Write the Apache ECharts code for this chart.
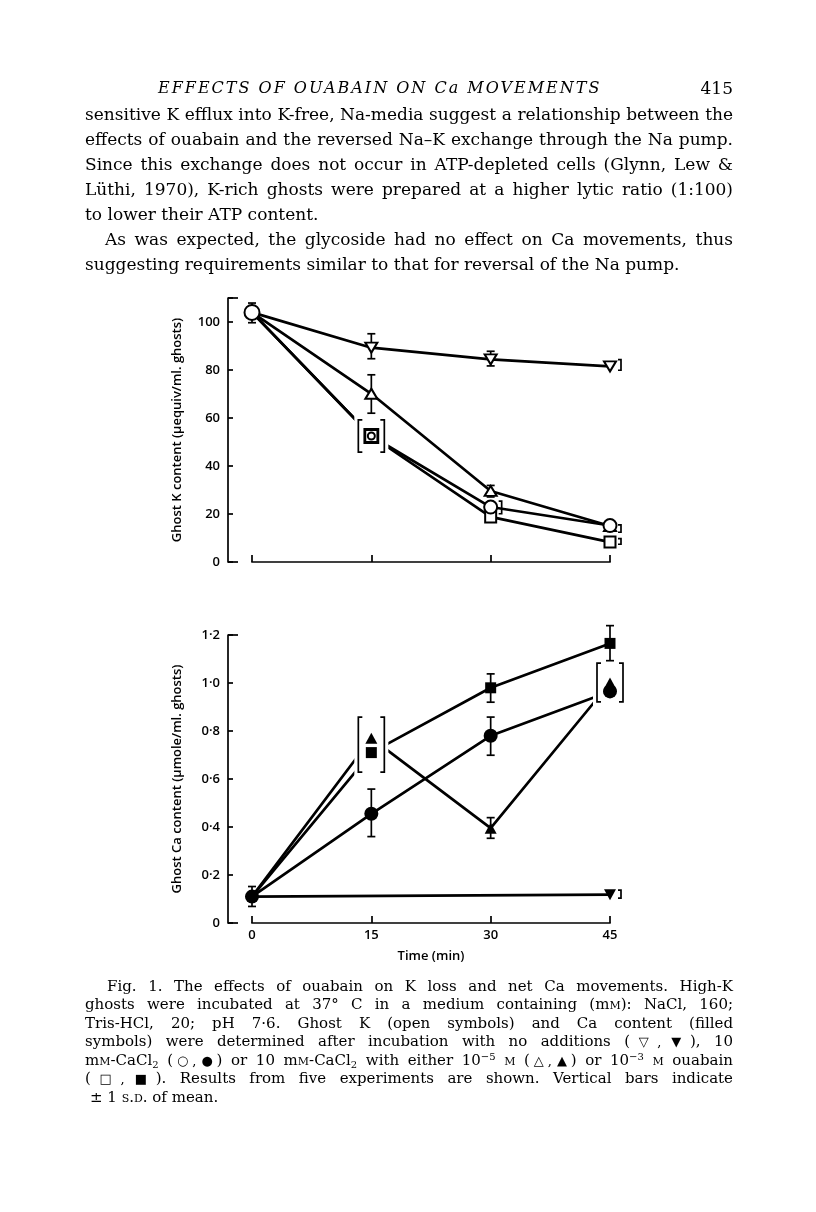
<!DOCTYPE html>
<html><head><meta charset="utf-8">
<script src="https://cdn.jsdelivr.net/npm/echarts@6/dist/echarts.min.js"></script>
<style>
html,body{margin:0;padding:0;background:#fff;}
#page{position:relative;width:816px;height:1212px;overflow:hidden;background:#fff;}
#chart{position:absolute;left:0;top:0;width:816px;height:1212px;}
.t{position:absolute;white-space:nowrap;font-family:'DejaVu Serif',serif;color:#000;z-index:2;}
.b{left:85px;width:648px;font-size:17px;line-height:25px;}
.c{left:85px;width:648px;font-size:15px;line-height:18.5px;}
.j{text-align:justify;text-align-last:justify;text-justify:inter-word;}
.sc{font-variant:small-caps;}
.lo{position:relative;top:3px;font-size:10px;line-height:0;}
.hi{position:relative;top:-5px;font-size:10px;line-height:0;}
.sym{font-size:13px;}
</style></head><body>
<div id="page">
<div id="chart"></div>
<div class="t" style="left:158px;top:77px;line-height:22px;font-size:16px;font-style:italic;letter-spacing:2px;">EFFECTS OF OUABAIN ON Ca MOVEMENTS</div>
<div class="t" style="right:83px;top:77px;line-height:22px;font-size:17px;">415</div>

<div class="t b j" style="top:101.5px">sensitive K efflux into K-free, Na-media suggest a relationship between the</div>
<div class="t b j" style="top:126.5px">effects of ouabain and the reversed Na–K exchange through the Na pump.</div>
<div class="t b j" style="top:151.5px">Since this exchange does not occur in ATP-depleted cells (Glynn, Lew &amp;</div>
<div class="t b j" style="top:176.5px">Lüthi, 1970), K-rich ghosts were prepared at a higher lytic ratio (1:100)</div>
<div class="t b" style="top:201.5px">to lower their ATP content.</div>
<div class="t b j" style="top:226.5px;left:105px;width:628px">As was expected, the glycoside had no effect on Ca movements, thus</div>
<div class="t b" style="top:251.5px">suggesting requirements similar to that for reversal of the Na pump.</div>

<div class="t c j" style="top:976.75px;left:107px;width:626px">Fig. 1. The effects of ouabain on K loss and net Ca movements. High-K</div>
<div class="t c j" style="top:995.25px">ghosts were incubated at 37° C in a medium containing (m<span class="sc">m</span>): NaCl, 160;</div>
<div class="t c j" style="top:1013.75px">Tris-HCl, 20; pH 7·6. Ghost K (open symbols) and Ca content (filled</div>
<div class="t c j" style="top:1032.25px">symbols) were determined after incubation with no additions (<span class="sym">▽,&#8202;▼</span>), 10</div>
<div class="t c j" style="top:1050.75px">m<span class="sc">m</span>-CaCl<span class="lo">2</span> (<span class="sym">○,&#8202;●</span>) or 10 m<span class="sc">m</span>-CaCl<span class="lo">2</span> with either 10<span class="hi">−5</span> <span class="sc">m</span> (<span class="sym">△,&#8202;▲</span>) or 10<span class="hi">−3</span> <span class="sc">m</span> ouabain</div>
<div class="t c j" style="top:1069.25px">(<span class="sym">□,&#8202;■</span>). Results from five experiments are shown. Vertical bars indicate</div>
<div class="t c" style="top:1087.75px;left:90px">± 1 <span class="sc">s.d.</span> of mean.</div>
</div>
<script>
// ---------- data ----------
const timePoints = [0, 15, 30, 45];
const timeTickLabels = ['0', '15', '30', '45'];

// Ghost K content (μequiv/ml. ghosts)
const kNoAdditions = [104, 89.3, 84.4, 81.5];
const kCaCl2 = [104, 52.5, 22.9, 15.2];
const kOuabain5 = [104, 70.1, 29.6, 15.0];
const kOuabain3 = [104, 52.5, 18.8, 8.3];
const kErrorBars = [[0, 99.7, 107.9], [15, 84.7, 95.1], [30, 81.7, 87.8], [15, 62, 78], [30, 27.1, 31.9]];
const kSideBars = [[45, 79.9, 84.3], [30, 20.1, 25.4], [45, 12.4, 15.5], [45, 7.4, 9.7]];
const kGroupBars = [[15, 45.8, 59.2]];
const kTickLabels = ['0', '20', '40', '60', '80', '100'];

// Ghost Ca content (μmole/ml. ghosts)
const caNoAddTimes = [0, 45];
const caNoAdditions = [0.11, 0.118];
const caCaCl2 = [0.11, 0.455, 0.78, 0.965];
const caOuabain5 = [0.11, 0.77, 0.395, 1.0];
const caOuabain3 = [0.11, 0.71, 0.98, 1.165];
const caErrorBars = [[0, 0.069, 0.152], [15, 0.36, 0.558], [30, 0.699, 0.858], [30, 0.353, 0.439], [30, 0.92, 1.038], [45, 1.093, 1.239]];
const caSideBars = [[45, 0.104, 0.137]];
const caGroupBars = [[15, 0.629, 0.858], [45, 0.921, 1.083]];
const caTickLabels = ['0', '0·2', '0·4', '0·6', '0·8', '1·0', '1·2'];

// ---------- styling ----------
const INK = '#000';
const SANS = "'Open Sans', 'DejaVu Sans', sans-serif";
const pairs = (xs, ys) => xs.map((x, i) => [x, ys[i]]);
const openStyle = { color: '#fff', borderColor: INK, borderWidth: 2, opacity: 1 };
const fillStyle = { color: INK, borderColor: INK, borderWidth: 0, opacity: 1 };
const barStyle = { stroke: INK, lineWidth: 1.7, fill: null };

function lineSeries(g, data) {
  return { type: 'line', xAxisIndex: g, yAxisIndex: g, data: data, showSymbol: false, silent: true,
    lineStyle: { color: INK, width: 2.7 }, z: 2, animation: false };
}
function markerSeries(g, data, symbol, size, style, rotate, z) {
  return { type: 'scatter', xAxisIndex: g, yAxisIndex: g, data: data, symbol: symbol, symbolSize: size,
    symbolRotate: rotate || 0, itemStyle: style, z: z || 6, silent: true, animation: false };
}
function errorSeries(g, data) {
  return { type: 'custom', xAxisIndex: g, yAxisIndex: g, data: data, z: 5, silent: true, animation: false,
    encode: { x: 0, y: [1, 2] },
    renderItem: (p, api) => {
      const a = api.coord([api.value(0), api.value(1)]), b = api.coord([api.value(0), api.value(2)]);
      const w = 4;
      return { type: 'group', children: [
        { type: 'line', shape: { x1: a[0], y1: a[1], x2: b[0], y2: b[1] }, style: barStyle },
        { type: 'line', shape: { x1: a[0] - w, y1: a[1], x2: a[0] + w, y2: a[1] }, style: barStyle },
        { type: 'line', shape: { x1: b[0] - w, y1: b[1], x2: b[0] + w, y2: b[1] }, style: barStyle }] };
    } };
}
function sideSeries(g, data) {
  return { type: 'custom', xAxisIndex: g, yAxisIndex: g, data: data, z: 7, silent: true, animation: false,
    encode: { x: 0, y: [1, 2] },
    renderItem: (p, api) => {
      const a = api.coord([api.value(0), api.value(1)]), b = api.coord([api.value(0), api.value(2)]);
      const x = a[0] + 11;
      return { type: 'polyline', shape: { points: [[x - 3, b[1]], [x, b[1]], [x, a[1]], [x - 3, a[1]]] }, style: barStyle };
    } };
}
function groupFillSeries(g, data) {
  return { type: 'custom', xAxisIndex: g, yAxisIndex: g, data: data, z: 3, silent: true, animation: false,
    encode: { x: 0, y: [1, 2] },
    renderItem: (p, api) => {
      const a = api.coord([api.value(0), api.value(1)]), b = api.coord([api.value(0), api.value(2)]);
      return { type: 'rect', shape: { x: a[0] - 17, y: b[1] - 4, width: 34, height: a[1] - b[1] + 8 }, style: { fill: '#fff' } };
    } };
}
function groupSeries(g, data) {
  return { type: 'custom', xAxisIndex: g, yAxisIndex: g, data: data, z: 7, silent: true, animation: false,
    encode: { x: 0, y: [1, 2] },
    renderItem: (p, api) => {
      const a = api.coord([api.value(0), api.value(1)]), b = api.coord([api.value(0), api.value(2)]);
      const xl = a[0] - 13, xr = a[0] + 13;
      return { type: 'group', children: [
        { type: 'polyline', shape: { points: [[xl + 4, b[1]], [xl, b[1]], [xl, a[1]], [xl + 4, a[1]]] }, style: barStyle },
        { type: 'polyline', shape: { points: [[xr - 4, b[1]], [xr, b[1]], [xr, a[1]], [xr - 4, a[1]]] }, style: barStyle }] };
    } };
}
function frameSeries(g, yTop) {
  return { type: 'custom', xAxisIndex: g, yAxisIndex: g, data: [[0, 0]], z: 7, silent: true, animation: false,
    renderItem: (p, api) => {
      const top = api.coord([0, yTop]), bot = api.coord([0, 0]);
      const x = top[0] - 24;
      const st = { stroke: INK, lineWidth: 1.7 };
      return { type: 'group', children: [
        { type: 'line', shape: { x1: x, y1: top[1], x2: x + 10, y2: top[1] }, style: st },
        { type: 'line', shape: { x1: x, y1: bot[1], x2: x + 10, y2: bot[1] }, style: st }] };
    } };
}
const axisLineStyle = { color: INK, width: 1.7 };
function xAxisCfg(g, showLabels) {
  return { gridIndex: g, type: 'value', min: 0, max: 45, interval: 15,
    axisLine: { show: true, onZero: false, lineStyle: axisLineStyle },
    axisTick: { show: true, inside: true, length: 7, lineStyle: axisLineStyle },
    splitLine: { show: false },
    axisLabel: { show: showLabels, margin: 6, color: INK, fontFamily: SANS, fontWeight: 600, fontSize: 13,
      formatter: v => timeTickLabels[Math.round(v / 15)] },
    name: showLabels ? 'Time (min)' : '', nameLocation: 'middle', nameGap: 27,
    nameTextStyle: { color: INK, fontFamily: SANS, fontWeight: 600, fontSize: 13 } };
}
function yAxisCfg(g, max, interval, labels, name) {
  return { gridIndex: g, type: 'value', min: 0, max: max, interval: interval, offset: 24,
    axisLine: { show: true, onZero: false, lineStyle: axisLineStyle },
    axisTick: { show: true, inside: true, length: 5, lineStyle: axisLineStyle },
    splitLine: { show: false },
    axisLabel: { margin: 8, color: INK, fontFamily: SANS, fontWeight: 600, fontSize: 13,
      formatter: v => { const i = Math.round(v / interval); return Math.abs(i * interval - v) < 1e-6 ? (labels[i] || '') : ''; } },
    name: name, nameLocation: 'middle', nameGap: 44, nameRotate: 90,
    nameTextStyle: { color: INK, fontFamily: SANS, fontWeight: 600, fontSize: 13 } };
}

const kSq = pairs(timePoints, kOuabain3).slice(1).map((d, i) => i === 0 ? { value: d, symbolSize: 13, itemStyle: { borderWidth: 2.8 } } : d);

const option = {
  animation: false,
  backgroundColor: 'transparent',
  grid: [
    { left: 252, top: 298, width: 358, height: 264 },
    { left: 252, top: 635, width: 358, height: 288 }
  ],
  xAxis: [xAxisCfg(0, false), xAxisCfg(1, true)],
  yAxis: [
    yAxisCfg(0, 110, 20, kTickLabels, 'Ghost K content (μequiv/ml. ghosts)'),
    yAxisCfg(1, 1.2, 0.2, caTickLabels, 'Ghost Ca content (μmole/ml. ghosts)')
  ],
  series: [
    // K content (open symbols)
    lineSeries(0, pairs(timePoints, kNoAdditions)),
    lineSeries(0, pairs(timePoints, kOuabain5)),
    lineSeries(0, pairs(timePoints, kCaCl2)),
    lineSeries(0, pairs(timePoints, kOuabain3)),
    groupFillSeries(0, kGroupBars),
    errorSeries(0, kErrorBars),
    markerSeries(0, pairs(timePoints, kNoAdditions).slice(1), 'triangle', [12, 10], openStyle, 180),
    markerSeries(0, pairs(timePoints, kOuabain5).slice(1), 'triangle', [12, 10], openStyle),
    markerSeries(0, kSq, 'rect', 11, openStyle),
    markerSeries(0, pairs(timePoints, kCaCl2), 'circle', (v, p) => p.dataIndex === 0 ? 15 : (p.dataIndex === 1 ? 7 : 13), openStyle, 0, 8),
    sideSeries(0, kSideBars),
    groupSeries(0, kGroupBars),
    frameSeries(0, 110),
    // Ca content (filled symbols)
    lineSeries(1, pairs(caNoAddTimes, caNoAdditions)),
    lineSeries(1, pairs(timePoints, caCaCl2)),
    lineSeries(1, pairs(timePoints, caOuabain5)),
    lineSeries(1, pairs(timePoints, caOuabain3)),
    groupFillSeries(1, caGroupBars),
    errorSeries(1, caErrorBars),
    markerSeries(1, pairs(caNoAddTimes, caNoAdditions).slice(1), 'triangle', [12, 11], fillStyle, 180),
    markerSeries(1, pairs(timePoints, caOuabain3).slice(1), 'rect', 11, fillStyle),
    markerSeries(1, pairs(timePoints, caCaCl2), 'circle', 14, fillStyle),
    markerSeries(1, pairs(timePoints, caOuabain5).slice(1), 'triangle', [12, 11], fillStyle, 0, 8),
    sideSeries(1, caSideBars),
    groupSeries(1, caGroupBars),
    frameSeries(1, 1.2)
  ]
};
const chart = echarts.init(document.getElementById('chart'), null, { renderer: 'canvas' });
chart.setOption(option);
</script>
</body></html>
